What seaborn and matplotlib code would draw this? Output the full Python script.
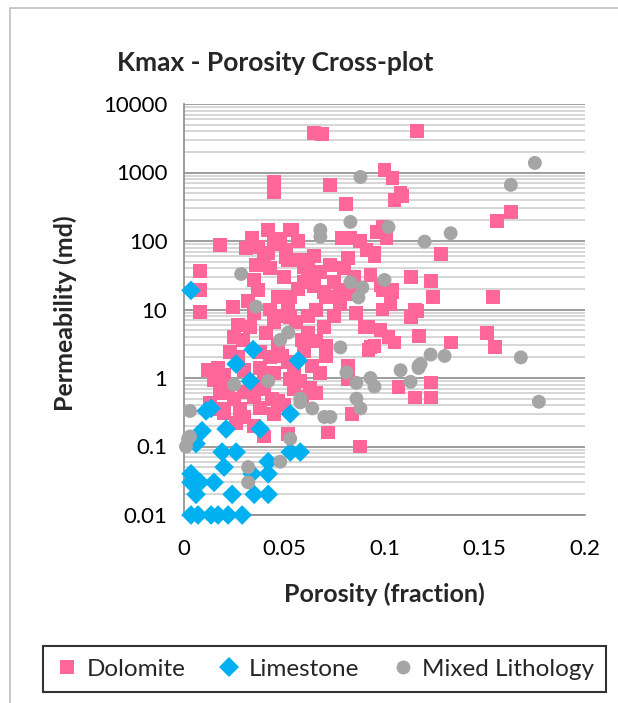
import numpy as np
import pandas as pd
import matplotlib
matplotlib.use("Agg")
import matplotlib.pyplot as plt
from matplotlib.ticker import FixedLocator, FixedFormatter, LogLocator, NullFormatter
from matplotlib.patches import Rectangle
import seaborn as sns

# Data (porosity fraction, permeability md)
dolomite_phi = [0.065, 0.069, 0.116, 0.045, 0.045, 0.073, 0.081, 0.100, 0.104, 0.108, 0.109, 0.105, 0.163, 0.156,
                0.018, 0.034, 0.042, 0.048, 0.053, 0.037, 0.042, 0.051, 0.052, 0.043, 0.050, 0.035, 0.037, 0.008,
                0.008, 0.047, 0.054, 0.079, 0.083, 0.088, 0.096, 0.099, 0.101, 0.091, 0.095, 0.082, 0.073, 0.068,
                0.058, 0.060, 0.051, 0.093, 0.070, 0.078, 0.099, 0.104, 0.095, 0.098, 0.104, 0.103, 0.099, 0.115,
                0.113, 0.123, 0.124, 0.154, 0.128, 0.103, 0.113, 0.116, 0.092, 0.098, 0.102, 0.105, 0.093, 0.117,
                0.133, 0.151, 0.155, 0.107, 0.123, 0.115, 0.123, 0.008, 0.0245, 0.032, 0.035, 0.043, 0.041, 0.025,
                0.0295, 0.023, 0.038, 0.017, 0.020, 0.015, 0.038, 0.045, 0.030, 0.035, 0.038, 0.047, 0.020, 0.013,
                0.033, 0.053, 0.071, 0.083, 0.066, 0.053, 0.056, 0.070, 0.090, 0.071, 0.071, 0.064, 0.068, 0.082,
                0.082, 0.053, 0.063, 0.066, 0.059, 0.055, 0.049, 0.059, 0.084, 0.092, 0.095, 0.072, 0.088, 0.052,
                0.027, 0.033, 0.045, 0.048, 0.052, 0.057, 0.060, 0.063, 0.065, 0.047, 0.043, 0.040, 0.052, 0.060,
                0.062, 0.066, 0.027, 0.030, 0.022, 0.025, 0.028, 0.040, 0.044, 0.050, 0.055, 0.058, 0.045, 0.035,
                0.040, 0.026, 0.030, 0.062, 0.075, 0.078, 0.086, 0.075, 0.080, 0.085, 0.065, 0.045, 0.040, 0.031,
                0.036, 0.057, 0.062, 0.012, 0.018, 0.018]
dolomite_k = [3800, 3600, 4000, 730, 520, 660, 350, 1090, 830, 500, 460, 400, 265, 195,
              88, 111, 145, 107, 145, 81, 67, 74, 53, 40, 30, 27, 19, 37,
              19, 15, 145, 110, 110, 100, 135, 160, 110, 74, 67, 57, 45, 35,
              53, 42, 58, 32, 18, 19, 19, 19, 60, 23, 18, 15, 10, 10,
              30, 26, 15, 15, 65, 12, 7.7, 9.5, 5.6, 5.0, 4.0, 3.3, 2.8, 4.1,
              3.3, 4.5, 2.8, 0.74, 0.86, 0.52, 0.52, 9.3, 11, 13.5, 9, 10, 4.6, 4.0,
              3.6, 2.4, 2.4, 1.4, 1.1, 0.93, 1.4, 1.2, 0.63, 0.53, 0.36, 0.46, 0.31, 0.43,
              0.72, 15, 15, 17, 9.8, 7.7, 6.6, 5.6, 5.6, 2.9, 2.1, 1.5, 1.2, 1.5,
              0.96, 0.96, 0.72, 0.6, 0.53, 1.3, 2.1, 3.6, 0.3, 2.6, 2.9, 0.16, 0.1, 0.15,
              6, 5.5, 6.5, 8, 12, 20, 25, 30, 22, 3, 2, 1.0, 1.7, 2.5,
              4.5, 3.5, 2.0, 1.3, 0.8, 0.5, 0.35, 0.7, 0.5, 0.4, 0.7, 0.9, 0.3, 0.2,
              0.14, 0.22, 0.27, 8, 8, 12, 9, 25, 40, 30, 60, 90, 55, 80,
              45, 100, 40, 1.3, 0.6, 0.35]

limestone_phi = [0.0035, 0.0345, 0.026, 0.057, 0.033, 0.0135, 0.011, 0.053, 0.009, 0.021, 0.038, 0.006,
                 0.019, 0.026, 0.053, 0.058, 0.042, 0.020, 0.034, 0.042, 0.0035, 0.008, 0.0035, 0.015,
                 0.006, 0.024, 0.035, 0.042, 0.0035, 0.007, 0.0135, 0.017, 0.022, 0.029]
limestone_k = [19, 2.6, 1.6, 1.8, 0.9, 0.36, 0.33, 0.30, 0.17, 0.18, 0.18, 0.11,
               0.083, 0.083, 0.083, 0.083, 0.06, 0.05, 0.04, 0.04, 0.04, 0.03, 0.03, 0.03,
               0.02, 0.02, 0.02, 0.02, 0.01, 0.01, 0.01, 0.01, 0.01, 0.01]

mixed_phi = [0.175, 0.163, 0.088, 0.083, 0.068, 0.068, 0.102, 0.133, 0.120, 0.083, 0.089, 0.100, 0.087,
             0.0285, 0.036, 0.052, 0.048, 0.078, 0.042, 0.025, 0.058, 0.058, 0.064, 0.003, 0.086, 0.081,
             0.093, 0.086, 0.088, 0.070, 0.073, 0.053, 0.002, 0.001, 0.032, 0.048, 0.032, 0.123, 0.130,
             0.168, 0.108, 0.117, 0.117, 0.118, 0.095, 0.113, 0.177, 0.003]
mixed_k = [1380, 660, 860, 190, 145, 115, 160, 130, 98, 25, 21, 27, 15,
           33, 11, 4.6, 3.6, 2.8, 0.9, 0.8, 0.5, 0.44, 0.36, 0.33, 0.85, 1.2,
           1.0, 0.5, 0.36, 0.27, 0.27, 0.13, 0.13, 0.1, 0.05, 0.06, 0.03, 2.2, 2.1,
           2.0, 1.3, 1.5, 1.4, 1.6, 0.75, 0.88, 0.45, 0.14]

lithologies = ["Dolomite", "Limestone", "Mixed Lithology"]
colors = ["#FF6699", "#00B0F0", "#A5A5A5"]
x_ticks = [0, 0.05, 0.1, 0.15, 0.2]
x_tick_labels = ["0", "0.05", "0.1", "0.15", "0.2"]
y_ticks = [0.01, 0.1, 1, 10, 100, 1000, 10000]
y_tick_labels = ["0.01", "0.1", "1", "10", "100", "1000", "10000"]

df = pd.concat([
    pd.DataFrame({"phi": dolomite_phi, "k": dolomite_k, "Lithology": lithologies[0]}),
    pd.DataFrame({"phi": limestone_phi, "k": limestone_k, "Lithology": lithologies[1]}),
    pd.DataFrame({"phi": mixed_phi, "k": mixed_k, "Lithology": lithologies[2]}),
], ignore_index=True)

sns.set_style("white")
plt.rcParams["font.family"] = ["Lato", "DejaVu Sans"]

fig = plt.figure(figsize=(6.18, 7.03), dpi=100)
ax = fig.add_axes([184 / 618, 1 - 515 / 703, 401 / 618, 411 / 703])

sns.scatterplot(data=df, x="phi", y="k", hue="Lithology", style="Lithology",
                hue_order=lithologies, style_order=lithologies,
                palette=dict(zip(lithologies, colors)),
                markers={"Dolomite": "s", "Limestone": "D", "Mixed Lithology": "o"},
                s=100, linewidth=0, alpha=1, ax=ax, clip_on=False, zorder=3)

ax.set_yscale("log")
ax.set_xlim(0, 0.2)
ax.set_ylim(0.01, 10000)

ax.xaxis.set_major_locator(FixedLocator(x_ticks))
ax.xaxis.set_major_formatter(FixedFormatter(x_tick_labels))
ax.yaxis.set_major_locator(FixedLocator(y_ticks))
ax.yaxis.set_major_formatter(FixedFormatter(y_tick_labels))
ax.yaxis.set_minor_locator(LogLocator(base=10, subs=np.arange(2, 10)))
ax.yaxis.set_minor_formatter(NullFormatter())

ax.grid(which="major", axis="y", color="#8C8C8C", linewidth=1.2)
ax.grid(which="minor", axis="y", color="#CFCFCF", linewidth=1.2)
ax.grid(False, axis="x")
ax.set_axisbelow(True)

for side in ["top", "right"]:
    ax.spines[side].set_visible(False)
for side in ["left", "bottom"]:
    ax.spines[side].set_color("#8C8C8C")
    ax.spines[side].set_linewidth(1.2)

ax.tick_params(axis="both", which="major", direction="out", length=6, width=1.2,
               color="#8C8C8C", labelsize=16, labelcolor="black", pad=6)
ax.tick_params(axis="y", which="minor", length=0)
ax.tick_params(axis="x", which="major", pad=11)

ax.set_xlabel("Porosity (fraction)", fontsize=18, fontweight="bold")
ax.set_ylabel("Permeability (md)", fontsize=18, fontweight="bold")
ax.xaxis.set_label_coords(0.5, -0.165)
ax.yaxis.set_label_coords(-0.267, 0.49)

fig.text(0.445, 1 - 63 / 703, "Kmax - Porosity Cross-plot", fontsize=19, fontweight="bold",
         ha="center", va="center")

handles, labels = ax.get_legend_handles_labels()
ax.get_legend().remove()
for h in handles:
    h.set_markersize(10)
leg = fig.legend(handles, labels, loc="center", bbox_to_anchor=(0.525, 1 - 669 / 703),
                 ncol=3, fontsize=17.5, frameon=True, fancybox=False, edgecolor="black",
                 handletextpad=0.3, columnspacing=1.3, borderpad=0.5, handlelength=1.0)
leg.get_frame().set_linewidth(1.5)

# outer chart border
fig.patches.append(Rectangle((10 / 618, -0.05), 1.1, 1 - 8 / 703 + 0.05, transform=fig.transFigure,
                             fill=False, edgecolor="#BFBFBF", linewidth=1.2))

fig.savefig("out.png", dpi=100)
